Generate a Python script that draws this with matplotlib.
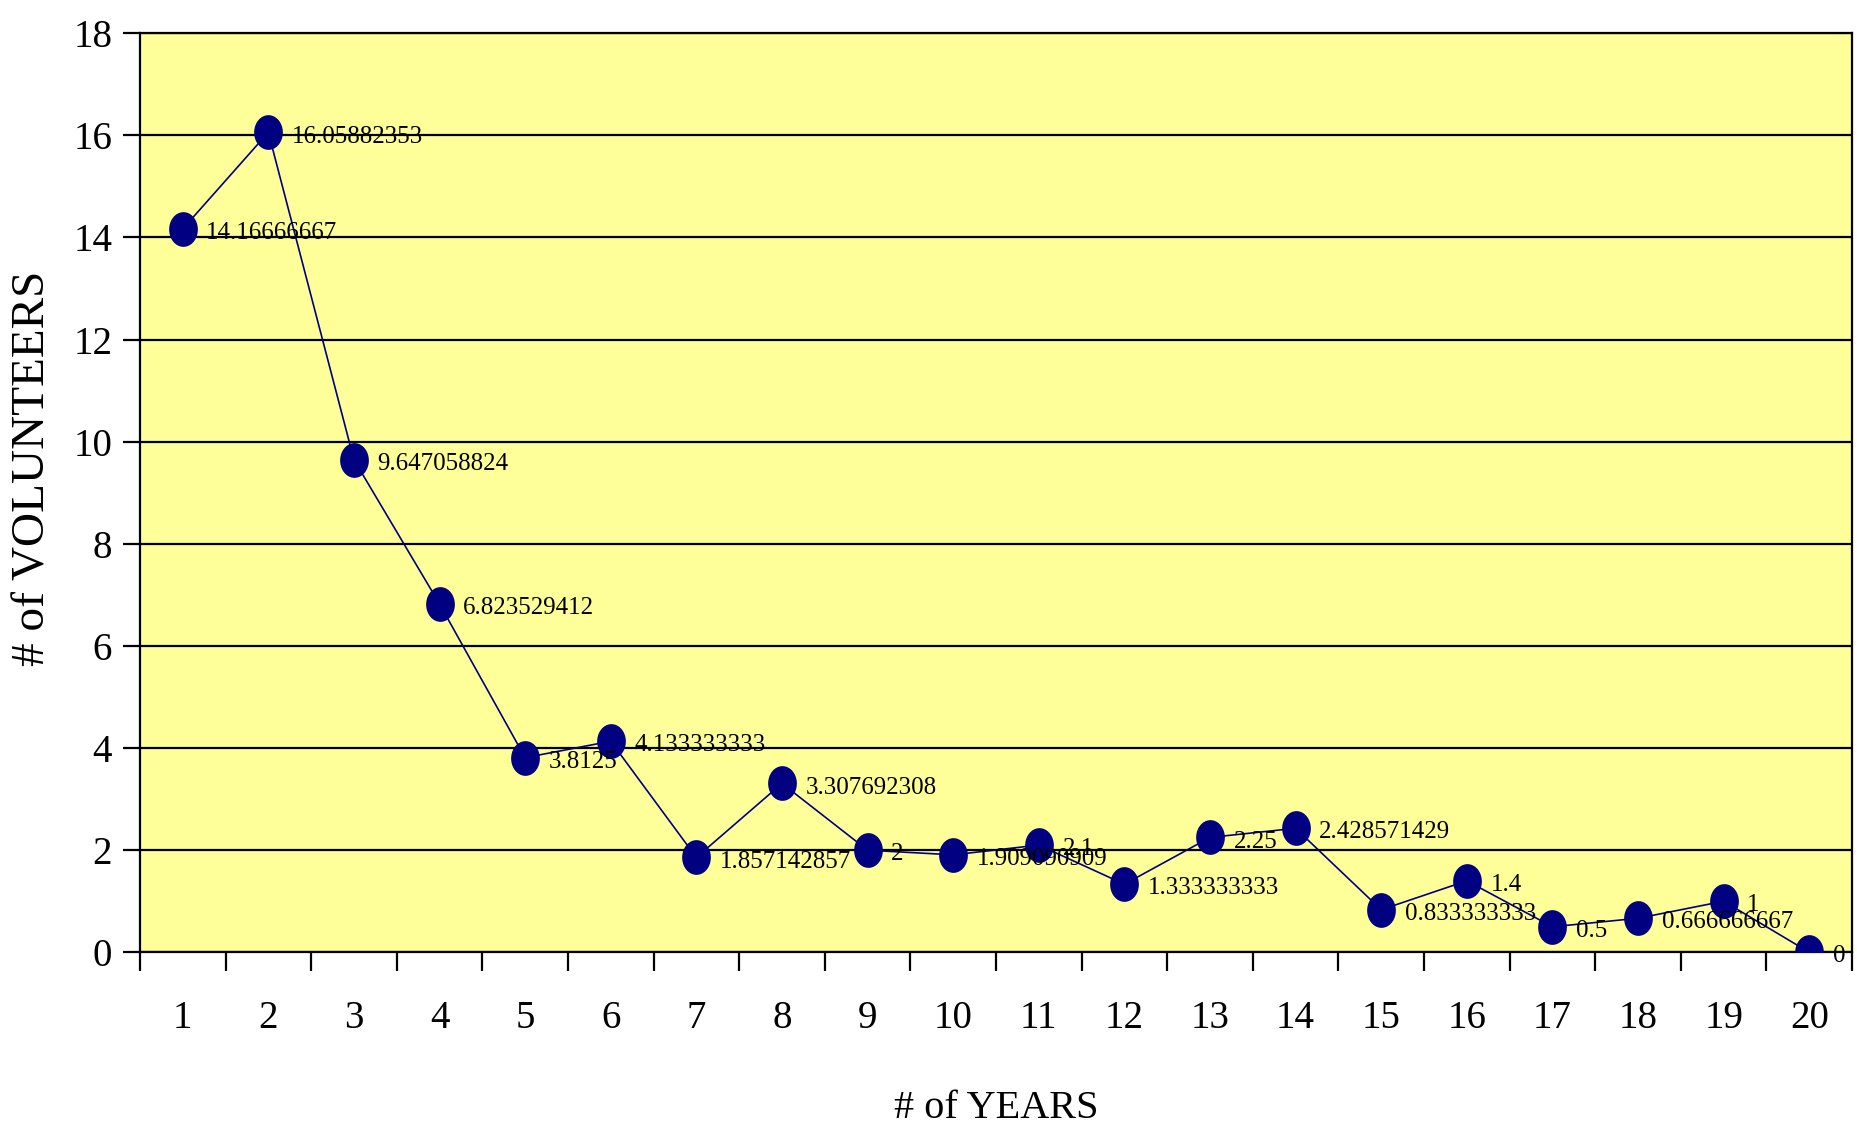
import matplotlib.pyplot as plt
from matplotlib.path import Path
import numpy as np

# data
years = list(range(1, 21))
volunteers = [14.16666667, 16.05882353, 9.647058824, 6.823529412, 3.8125,
              4.133333333, 1.857142857, 3.307692308, 2, 1.909090909,
              2.1, 1.333333333, 2.25, 2.428571429, 0.833333333,
              1.4, 0.5, 0.666666667, 1, 0]
value_labels = ['14.16666667', '16.05882353', '9.647058824', '6.823529412', '3.8125',
                '4.133333333', '1.857142857', '3.307692308', '2', '1.909090909',
                '2.1', '1.333333333', '2.25', '2.428571429', '0.833333333',
                '1.4', '0.5', '0.666666667', '1', '0']
y_ticks = [0, 2, 4, 6, 8, 10, 12, 14, 16, 18]

plt.rcParams['font.family'] = ['Liberation Serif', 'DejaVu Serif']

# slightly tall ellipse marker, like the old Excel dots
t = np.linspace(0, 2 * np.pi, 40)
ellipse = Path(np.column_stack([0.82 * np.cos(t), np.sin(t)]), closed=True)

fig = plt.figure(figsize=(18.58, 11.31), dpi=100)
ax = fig.add_axes([0.0753, 0.158, 0.9215, 0.8126])
ax.set_facecolor('#FFFF99')

ax.plot(years, volunteers, color='#000080', linewidth=1.2,
        marker=ellipse, markersize=24, markerfacecolor='#000080',
        markeredgecolor='#000080', zorder=3)

for x, y, s in zip(years, volunteers, value_labels):
    ax.annotate(s, (x, y), xytext=(17, -3), textcoords='offset points',
                ha='left', va='center', fontsize=18, color='black', zorder=4)

ax.set_xlim(0.5, 20.5)
ax.set_ylim(0, 18)
ax.set_yticks(y_ticks)
ax.yaxis.grid(True, color='black', linewidth=1.6)
ax.set_axisbelow(True)

# ticks between categories, labels on categories
ax.set_xticks(np.arange(0.5, 21, 1))
ax.set_xticklabels([])
ax.set_xticks(years, minor=True)
ax.set_xticklabels([str(v) for v in years], minor=True)
ax.tick_params(axis='x', which='major', length=14, width=1.6, direction='out')
ax.tick_params(axis='x', which='minor', length=0, pad=34, labelsize=28)
ax.tick_params(axis='y', length=12, width=1.6, direction='out', pad=8, labelsize=28)

for sp in ax.spines.values():
    sp.set_color('black')
    sp.set_linewidth(1.6)

fig.text(0.536, 0.02, '# of YEARS', ha='center', va='center', fontsize=29)
fig.text(0.018, 0.586, '# of VOLUNTEERS', ha='center', va='center',
         rotation=90, fontsize=34)

fig.savefig('out.png', dpi=100, facecolor='white')
